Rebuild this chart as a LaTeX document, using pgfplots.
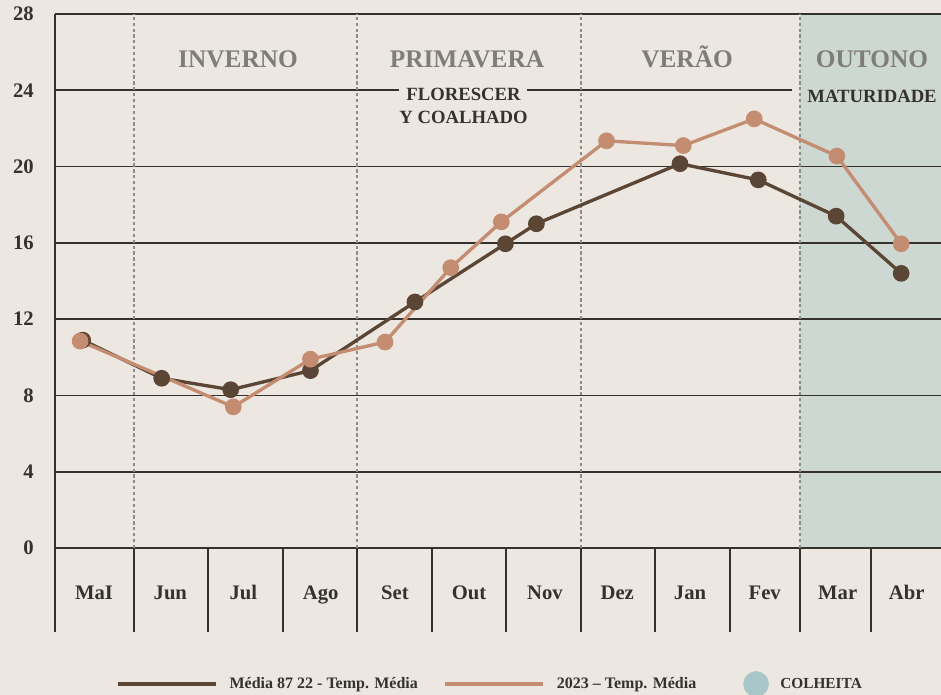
\documentclass[border=0pt]{standalone}
\usepackage{fontspec}
\setmainfont{Liberation Serif}
\usepackage{pgfplots}
\pgfplotsset{compat=1.18}
\definecolor{bgc}{HTML}{ECE8E1}
\definecolor{shade}{HTML}{CED8D3}
\definecolor{gridc}{HTML}{35312C}
\definecolor{darkc}{HTML}{5B4636}
\definecolor{lightc}{HTML}{C48D71}
\definecolor{seasonc}{HTML}{7F7D78}
\definecolor{dashc}{HTML}{8C8C8A}
\definecolor{colh}{HTML}{A8C6C7}
\begin{document}
\begin{tikzpicture}
\fill[bgc] (0,0) rectangle (705.75pt,521.25pt);
\begin{axis}[
  at={(41.25pt,110.25pt)}, anchor=south west,
  scale only axis, width=664.5pt, height=400.5pt,
  xmin=0, xmax=12, ymin=0, ymax=28,
  clip=false,
  axis line style={draw=none},
  major tick length=0pt,
  /pgf/number format/assume math mode=true,
  ytick={0,4,8,12,16,20,24,28},
  yticklabel style={font=\fontsize{15.5}{16}\selectfont\bfseries, text=gridc, anchor=east, inner sep=0pt, xshift=-15.75pt},
  xtick={0.528,1.562,2.551,3.598,4.605,5.607,6.637,7.615,8.601,9.612,10.601,11.535},
  xticklabels={MaI,Jun,Jul,Ago,Set,Out,Nov,Dez,Jan,Fev,Mar,Abr},
  xticklabel style={font=\fontsize{15.5}{16}\selectfont\bfseries, text=gridc, anchor=base, inner sep=0pt, yshift=-39pt},
  legend image code/.code={\draw[#1, line width=3pt, mark=none] (0pt,0pt) -- (73.5pt,0pt);},
  legend style={at={(rel axis cs:0.0689,-0.2547)}, anchor=west, draw=none, fill=none,
    legend columns=3, inner sep=0pt, text=gridc,
    font=\fontsize{12}{14}\selectfont\bfseries,
    nodes={inner sep=0pt},
    /tikz/column 1/.style={column sep=8.5pt},
    /tikz/column 2/.style={column sep=18.75pt},
    /tikz/column 3/.style={column sep=9pt},
    /tikz/column 4/.style={column sep=35.2pt},
    /tikz/column 5/.style={column sep=8.6pt}},
]
% harvest shading
\addplot[draw=none, fill=shade, forget plot] coordinates {(10.09,0) (10.09,28) (12,28) (12,0)} \closedcycle;
% grid lines
\foreach \yy in {4,8,12,16,20} {
  \edef\tmp{\noexpand\draw[gridc, line width=1.3pt] (axis cs:0,\yy) -- (axis cs:12,\yy);}\tmp
}
\draw[gridc, line width=1.3pt] (axis cs:0,24) -- (axis cs:4.659,24);
\draw[gridc, line width=1.3pt] (axis cs:6.393,24) -- (axis cs:9.982,24);
\draw[gridc, line width=1.3pt] (axis cs:0,28) -- (axis cs:12,28);
\draw[gridc, line width=1.4pt] (axis cs:0,0) -- (axis cs:12,0);
% season dividers
\foreach \xx in {1.070,4.090,7.124,10.090} {
  \edef\tmp{\noexpand\draw[dashc, line width=0.9pt, dash pattern=on 2.4pt off 2pt] (axis cs:\xx,0) -- (axis cs:\xx,28);}\tmp
}
% category band
\draw[gridc, line width=1.5pt] (axis cs:0,28) -- (axis cs:0,-4.405);
\foreach \xx in {1.070,2.072,3.088,4.090,5.106,6.108,7.124,8.127,9.142,10.090,11.052} {
  \edef\tmp{\noexpand\draw[gridc, line width=1.3pt] (axis cs:\xx,0) -- (axis cs:\xx,-4.405);}\tmp
}
% series
\addplot[darkc, line width=2.5pt, mark=*, mark size=5pt, mark options={fill=darkc, draw=none}] coordinates {
(0.375,10.9) (1.445,8.9) (2.38,8.3) (3.46,9.3) (4.875,12.9) (6.10,15.95) (6.52,17.0) (8.465,20.15) (9.525,19.3) (10.58,17.4) (11.46,14.4)};
\addlegendentry{Média 87 22 - Temp. Média}
\addplot[lightc, line width=2.5pt, mark=*, mark size=5pt, mark options={fill=lightc, draw=none}] coordinates {
(0.34,10.85) (2.415,7.4) (3.46,9.9) (4.47,10.8) (5.36,14.7) (6.045,17.1) (7.47,21.35) (8.51,21.1) (9.47,22.5) (10.59,20.55) (11.46,15.95)};
\addlegendentry{2023 -- Temp. Média}
\addlegendimage{legend image code/.code={\fill[colh] (9.4pt,0pt) circle (9.4pt);}}
\addlegendentry{\fontsize{11.5}{13}\selectfont COLHEITA}
% labels
\tikzset{season/.style={anchor=base, text=seasonc, font=\fontsize{19}{21}\selectfont\bfseries, inner sep=0pt}}
\node[season] at (axis cs:2.479,25.17) {INVERNO};
\node[season] at (axis cs:5.58,25.17) {PRIMAVERA};
\node[season] at (axis cs:8.56,25.17) {VERÃO};
\node[season] at (axis cs:11.066,25.17) {OUTONO};
\tikzset{stage/.style={anchor=base, text=gridc, font=\fontsize{14}{16}\selectfont\bfseries, inner sep=0pt}}
\node[stage] at (axis cs:5.533,23.45) {FLORESCER};
\node[stage] at (axis cs:5.533,22.26) {Y COALHADO};
\node[stage] at (axis cs:11.066,23.35) {MATURIDADE};
\end{axis}
\pgfresetboundingbox
\useasboundingbox (0,0) rectangle (705.75pt,521.25pt);
\end{tikzpicture}
\end{document}
